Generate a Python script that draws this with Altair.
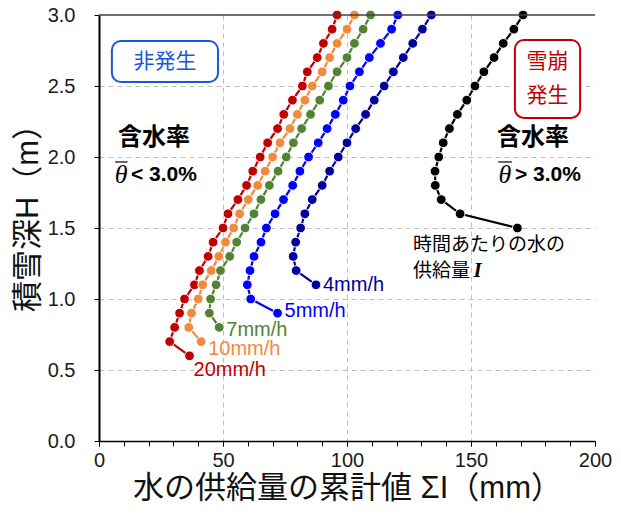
import altair as alt
import pandas as pd

# Snow depth levels (m), from the top of the snowpack downward
DEPTH = [3.0, 2.9, 2.8, 2.7, 2.6, 2.5, 2.4, 2.3, 2.2, 2.1, 2.0, 1.9, 1.8,
         1.7, 1.6, 1.5, 1.4, 1.3, 1.2, 1.1, 1.0, 0.9, 0.8, 0.7, 0.6]

# Cumulative water supply (mm) at each depth, per supply intensity
supply_20 = [96, 94, 90.5, 88, 84, 82, 78, 74.5, 72, 68, 65, 62, 59.5, 56, 52,
             50, 46, 44, 40.5, 38.5, 34.5, 32.5, 30.5, 28.5, 36.5]
supply_10 = [103, 100, 96, 93, 90, 86, 83, 80, 77, 73, 70, 67, 64, 60.2, 56.7,
             54.3, 51, 48.3, 45.3, 41.8, 40, 37.3, 36.2, 41.2]
supply_7 = [109.5, 106.5, 103, 100, 96, 92.5, 89, 85.3, 81.7, 78.4, 75.5, 72.2,
            68.7, 65.3, 62.5, 58.9, 55.5, 52.7, 49, 47.2, 45, 44.5, 48.5]
supply_5 = [120.5, 118, 113.5, 109, 105, 101.2, 98.5, 95.3, 92, 88.4, 84.5, 81,
            78.1, 74.4, 71, 67.5, 65.3, 62.5, 60.9, 59.8, 61.2, 72]
supply_4 = [134, 130.4, 126.5, 122.7, 118.7, 115, 111, 107.5, 103.5, 100, 96.5,
            93, 90, 86, 83, 81.3, 79.3, 78.3, 79.5, 87.5]
supply_avalanche = [171, 167.3, 163, 159.3, 155.2, 151.6, 148.3, 144.5, 141.3,
                    138.8, 137, 135.5, 135.6, 138, 145.6, 168.7]

SERIES = ["20mm/h", "10mm/h", "7mm/h", "5mm/h", "4mm/h", "avalanche"]
COLORS = ["#C00000", "#F08A3C", "#548235", "#0000FF", "#000099", "#000000"]
VALUES = [supply_20, supply_10, supply_7, supply_5, supply_4, supply_avalanche]

X_MAJOR = [0, 50, 100, 150, 200]
X_MINOR = [0, 10, 20, 30, 40, 50, 60, 70, 80, 90, 100, 110, 120, 130, 140,
           150, 160, 170, 180, 190, 200]
Y_TICKS = [0, 0.5, 1.0, 1.5, 2.0, 2.5, 3.0]

rows = []
for name, vals in zip(SERIES, VALUES):
    for k, (d, v) in enumerate(zip(DEPTH, vals)):
        rows.append({"series": name, "x": v, "y": d, "k": k})
df = pd.DataFrame(rows)
ends = df.loc[df.groupby("series")["k"].idxmax()].set_index("series")

W, H = 496, 426
LATIN = "Liberation Sans"
CJK = "Noto Sans CJK JP"
MIXED = "Liberation Sans, Noto Sans CJK JP"

xs = alt.Scale(domain=[0, 200], nice=False, zero=False)
ys = alt.Scale(domain=[0, 3], nice=False, zero=False)


def px(field="x"):
    return alt.X(f"{field}:Q", scale=xs, axis=None)


def py(field="y"):
    return alt.Y(f"{field}:Q", scale=ys)


x_axis = alt.Axis(
    orient="bottom", values=X_MAJOR, format="d", labelOverlap=False, labelFlush=False,
    tickSize=5, tickColor="black", tickWidth=1,
    domainColor="black", domainWidth=1.5,
    labelFont=LATIN, labelFontSize=20, labelColor="#1a1a1a", labelPadding=4,
    title="水の供給量の累計値 ΣI（mm）", titleFont=MIXED, titleFontSize=31,
    titleFontWeight="normal", titleColor="#111111", titlePadding=3,
    grid=True, gridDash=[5, 4], gridColor="#BFBFBF", gridWidth=1,
    gridOpacity={"condition": {"test": "datum.value > 0 && datum.value < 200", "value": 1},
                 "value": 0},
)
x_minor_axis = alt.Axis(
    orient="bottom", values=X_MINOR, labels=False, domain=False, grid=False,
    tickSize=5, tickColor="black", tickWidth=1, title=None,
)
y_axis = alt.Axis(
    values=Y_TICKS, format=".1f", labelOverlap=False, labelFlush=False,
    tickSize=5, tickColor="black", tickWidth=1,
    domainColor="black", domainWidth=2,
    labelFont=LATIN, labelFontSize=20, labelColor="#1a1a1a", labelPadding=19,
    title="積雪深H（m）", titleFont=MIXED, titleFontSize=31,
    titleFontWeight="normal", titleColor="#111111", titlePadding=3,
    titleY=195,
    grid=True, gridDash=[5, 4], gridColor="#BFBFBF", gridWidth=1,
    gridOpacity={"condition": {"test": "datum.value > 0 && datum.value < 3", "value": 1},
                 "value": 0},
)

color = alt.Color("series:N", scale=alt.Scale(domain=SERIES, range=COLORS), legend=None)

lines = alt.Chart(df).mark_line(strokeWidth=2.2).encode(
    x=alt.X("x:Q", scale=xs, axis=x_axis),
    y=alt.Y("y:Q", scale=ys, axis=y_axis),
    color=color, detail="series:N", order="k:Q",
)
points = alt.Chart(df).mark_circle(size=95, opacity=1, stroke="white", strokeWidth=1).encode(
    x=px(), y=py(), color=color, detail="series:N",
)

minor_ticks = alt.Chart(pd.DataFrame({"x": [0.0]})).mark_point(opacity=0).encode(
    x=alt.X("x:Q", scale=xs, axis=x_minor_axis),
)

top_rule = alt.Chart(pd.DataFrame({"y": [3.0]})).mark_rule(
    color="#404040", strokeWidth=1.5
).encode(y=py())

# series end labels
label_specs = [
    ("4mm/h", "#000099", 7, 0),
    ("5mm/h", "#0000FF", 7, -2),
    ("7mm/h", "#548235", 7, 3),
    ("10mm/h", "#F08A3C", 7, 7),
    ("20mm/h", "#C00000", 4, 14),
]
labels = []
for name, col, dx, dy in label_specs:
    e = ends.loc[name]
    labels.append(
        alt.Chart(pd.DataFrame({"x": [e["x"]], "y": [e["y"]], "t": [name]}))
        .mark_text(align="left", baseline="middle", dx=dx, dy=dy, font=LATIN,
                   fontSize=20, color=col)
        .encode(x=px(), y=py(), text="t:N")
    )

# boxed zone labels
boxes = pd.DataFrame({
    "x1": [5.2, 167.7], "x2": [48.0, 194.0],
    "y1": [2.817, 2.824], "y2": [2.528, 2.275],
    "c": ["#1A56DB", "#C00000"],
})
box_marks = alt.Chart(boxes).mark_rect(cornerRadius=9, fill="white", strokeWidth=2).encode(
    x=px("x1"), x2="x2:Q", y=py("y1"), y2="y2:Q",
    stroke=alt.Stroke("c:N", scale=None),
)

zone_text = pd.DataFrame({
    "x": [26.6, 180.8, 180.8], "y": [2.672, 2.669, 2.43],
    "t": ["非発生", "雪崩", "発生"], "c": ["#1A56DB", "#C00000", "#C00000"],
})
zone_marks = alt.Chart(zone_text).mark_text(font=CJK, fontSize=21, baseline="middle").encode(
    x=px(), y=py(), text="t:N", color=alt.Color("c:N", scale=None),
)

# water content notes
wc_title = alt.Chart(pd.DataFrame({"x": [22.2, 175.0], "y": [2.134, 2.134]})).mark_text(
    font=CJK, fontSize=24, fontWeight="bold", color="black", baseline="middle"
).encode(x=px(), y=py(), text=alt.value("含水率"))

theta = alt.Chart(pd.DataFrame({"x": [8.9, 163.7], "y": [1.873, 1.873]})).mark_text(
    font="Liberation Serif", fontSize=26, fontStyle="italic", color="black", baseline="middle"
).encode(x=px(), y=py(), text=alt.value("θ"))

theta_bar = alt.Chart(pd.DataFrame({"x1": [6.5, 161.0], "x2": [11.5, 166.5],
                                    "y": [1.965, 1.965]})).mark_rule(
    color="black", strokeWidth=1.2
).encode(x=px("x1"), x2="x2:Q", y=py())

wc_value = alt.Chart(pd.DataFrame({"x": [12.9, 167.7], "y": [1.873, 1.873],
                                   "t": ["< 3.0%", "> 3.0%"]})).mark_text(
    font=LATIN, fontSize=21, fontWeight="bold", color="black", align="left", baseline="middle"
).encode(x=px(), y=py(), text="t:N")

note = alt.Chart(pd.DataFrame({"x": [126.6, 126.6], "y": [1.38, 1.197],
                               "t": ["時間あたりの水の", "供給量"]})).mark_text(
    font=CJK, fontSize=19, color="black", align="left", baseline="middle"
).encode(x=px(), y=py(), text="t:N")

note_i = alt.Chart(pd.DataFrame({"x": [151.0], "y": [1.197]})).mark_text(
    font="Liberation Serif", fontSize=21, fontStyle="italic", fontWeight="bold",
    color="black", align="left", baseline="middle"
).encode(x=px(), y=py(), text=alt.value("I"))

chart = alt.layer(
    lines, minor_ticks, points, top_rule, box_marks, zone_marks, wc_title, theta,
    theta_bar, wc_value, note, note_i, *labels
).resolve_axis(x="independent").properties(
    width=W, height=H,
    autosize=alt.AutoSizeParams(type="none"),
    padding={"left": 99, "top": 15, "right": 26, "bottom": 74},
    background="white",
).configure_view(stroke=None)

chart.save("out.html", embed_options={"renderer": "svg", "actions": False})
